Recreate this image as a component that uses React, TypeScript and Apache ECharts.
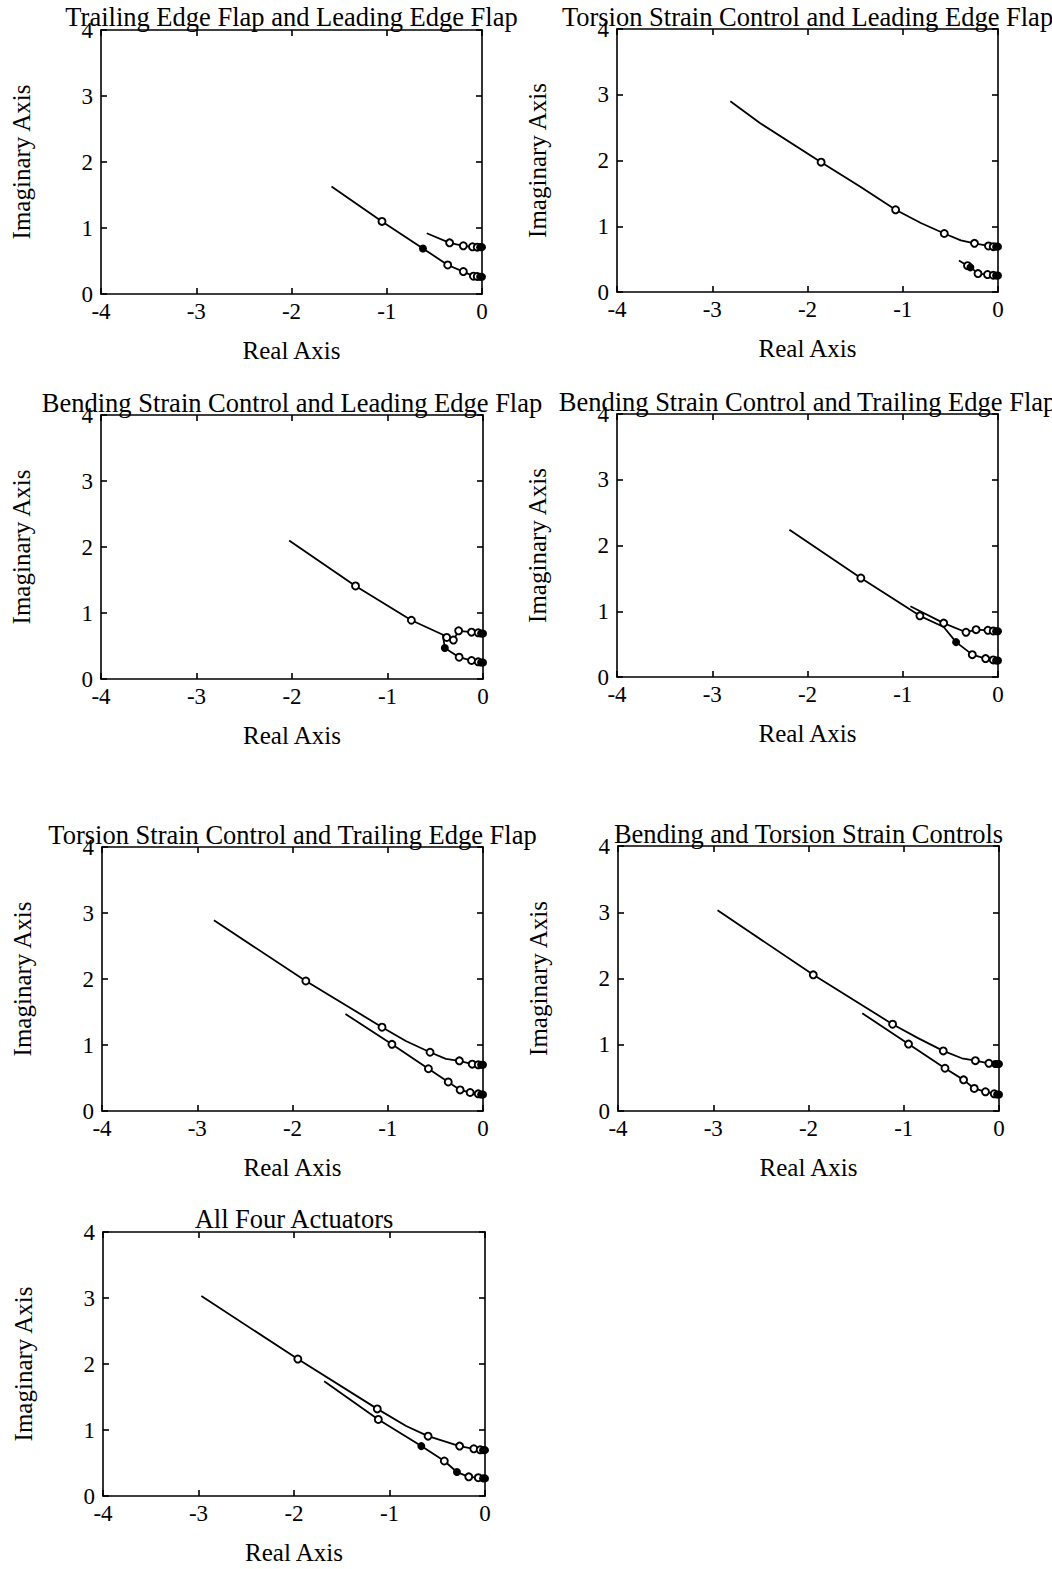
import React, { useEffect, useRef } from "react";
import * as echarts from "echarts";

// ---- axis ranges / ticks ----
const realRange = [-4, 0];
const imagRange = [0, 4];

// ---- titles ----
const titles = [
  "Trailing Edge Flap and Leading Edge Flap",
  "Torsion Strain Control and Leading Edge Flap",
  "Bending Strain Control and Leading Edge Flap",
  "Bending Strain Control and Trailing Edge Flap",
  "Torsion Strain Control and Trailing Edge Flap",
  "Bending and Torsion Strain Controls",
  "All Four Actuators",
];

// ---- Panel 1: Trailing Edge Flap and Leading Edge Flap ----
const p1Long = [[-1.58, 1.63], [-1.05, 1.1], [-0.62, 0.69], [-0.36, 0.44], [-0.196, 0.34], [-0.09, 0.27], [0, 0.26]];
const p1Short = [[-0.58, 0.92], [-0.34, 0.775], [-0.196, 0.73], [-0.1, 0.715], [0, 0.71]];
const p1Open = [[-1.05, 1.1], [-0.36, 0.44], [-0.196, 0.34], [-0.09, 0.27], [-0.34, 0.775], [-0.196, 0.73], [-0.1, 0.715], [-0.05, 0.71], [-0.05, 0.265]];
const p1Filled = [[-0.62, 0.69], [-0.02, 0.71], [0, 0.71], [-0.02, 0.26], [0, 0.26]];

// ---- Panel 2: Torsion Strain Control and Leading Edge Flap ----
const p2Upper = [[-2.81, 2.9], [-2.5, 2.57], [-1.857, 1.975], [-1.445, 1.6], [-1.075, 1.25], [-0.81, 1.05], [-0.564, 0.89], [-0.39, 0.785], [-0.247, 0.74], [-0.1, 0.7], [0, 0.69]];
const p2Lower = [[-0.41, 0.48], [-0.32, 0.4], [-0.27, 0.355], [-0.21, 0.28], [-0.11, 0.265], [0, 0.25]];
const p2Open = [[-1.857, 1.975], [-1.075, 1.25], [-0.564, 0.89], [-0.247, 0.74], [-0.1, 0.7], [-0.32, 0.4], [-0.21, 0.28], [-0.11, 0.265], [-0.05, 0.69], [-0.05, 0.255]];
const p2Filled = [[-0.29, 0.375], [-0.02, 0.69], [0, 0.69], [-0.02, 0.25], [0, 0.25]];

// ---- Panel 3: Bending Strain Control and Leading Edge Flap ----
const p3Long = [[-2.03, 2.1], [-1.335, 1.41], [-0.75, 0.89], [-0.42, 0.67], [-0.4, 0.47], [-0.25, 0.33], [-0.12, 0.28], [0, 0.25]];
const p3Upper = [[-0.42, 0.67], [-0.38, 0.63], [-0.31, 0.59], [-0.255, 0.73], [-0.12, 0.71], [0, 0.69]];
const p3Open = [[-1.335, 1.41], [-0.75, 0.89], [-0.38, 0.63], [-0.31, 0.59], [-0.255, 0.73], [-0.12, 0.71], [-0.25, 0.33], [-0.12, 0.28], [-0.05, 0.7], [-0.05, 0.26]];
const p3Filled = [[-0.4, 0.47], [-0.02, 0.69], [0, 0.69], [-0.02, 0.25], [0, 0.25]];

// ---- Panel 4: Bending Strain Control and Trailing Edge Flap ----
const p4Long = [[-2.19, 2.24], [-1.44, 1.505], [-0.82, 0.93], [-0.57, 0.76], [-0.44, 0.53], [-0.27, 0.34], [-0.13, 0.28], [0, 0.25]];
const p4Short = [[-0.92, 1.075], [-0.57, 0.82], [-0.336, 0.68], [-0.23, 0.72], [-0.106, 0.71], [0, 0.695]];
const p4Open = [[-1.44, 1.505], [-0.82, 0.93], [-0.57, 0.82], [-0.336, 0.68], [-0.23, 0.72], [-0.106, 0.71], [-0.27, 0.34], [-0.13, 0.28], [-0.05, 0.7], [-0.05, 0.26]];
const p4Filled = [[-0.44, 0.53], [-0.02, 0.695], [0, 0.695], [-0.02, 0.25], [0, 0.25]];

// ---- Panel 5: Torsion Strain Control and Trailing Edge Flap ----
const p5Upper = [[-2.825, 2.89], [-1.86, 1.97], [-1.06, 1.27], [-0.81, 1.06], [-0.556, 0.89], [-0.39, 0.79], [-0.248, 0.76], [-0.113, 0.71], [0, 0.7]];
const p5Lower = [[-1.444, 1.47], [-0.956, 1.01], [-0.573, 0.64], [-0.365, 0.44], [-0.24, 0.32], [-0.135, 0.28], [0, 0.25]];
const p5Open = [[-1.86, 1.97], [-1.06, 1.27], [-0.556, 0.89], [-0.248, 0.76], [-0.113, 0.71], [-0.956, 1.01], [-0.573, 0.64], [-0.365, 0.44], [-0.24, 0.32], [-0.135, 0.28], [-0.05, 0.7], [-0.05, 0.26]];
const p5Filled = [[-0.02, 0.7], [0, 0.7], [-0.02, 0.25], [0, 0.25]];

// ---- Panel 6: Bending and Torsion Strain Controls ----
const p6Upper = [[-2.955, 3.03], [-1.95, 2.055], [-1.117, 1.31], [-0.85, 1.1], [-0.585, 0.907], [-0.39, 0.796], [-0.248, 0.76], [-0.106, 0.72], [0, 0.71]];
const p6Lower = [[-1.436, 1.476], [-0.95, 1.01], [-0.567, 0.645], [-0.372, 0.47], [-0.26, 0.34], [-0.142, 0.29], [-0.05, 0.26], [0, 0.25]];
const p6Open = [[-1.95, 2.055], [-1.117, 1.31], [-0.585, 0.907], [-0.248, 0.76], [-0.106, 0.72], [-0.95, 1.01], [-0.567, 0.645], [-0.372, 0.47], [-0.26, 0.34], [-0.142, 0.29], [-0.05, 0.26]];
const p6Filled = [[-0.04, 0.71], [-0.02, 0.71], [0, 0.71], [-0.02, 0.25], [0, 0.25]];

// ---- Panel 7: All Four Actuators ----
const p7Upper = [[-2.97, 3.03], [-1.96, 2.075], [-1.128, 1.32], [-0.826, 1.06], [-0.596, 0.907], [-0.266, 0.756], [-0.117, 0.715], [0, 0.695]];
const p7Lower = [[-1.684, 1.74], [-1.117, 1.16], [-0.667, 0.756], [-0.426, 0.53], [-0.294, 0.363], [-0.17, 0.29], [-0.07, 0.277], [0, 0.267]];
const p7Open = [[-1.96, 2.075], [-1.128, 1.32], [-0.596, 0.907], [-0.266, 0.756], [-0.117, 0.715], [-1.117, 1.16], [-0.426, 0.53], [-0.17, 0.29], [-0.07, 0.277], [-0.05, 0.7]];
const p7Filled = [[-0.667, 0.756], [-0.294, 0.363], [-0.02, 0.695], [0, 0.695], [-0.02, 0.267], [0, 0.267]];

const panels = [
  { lines: [p1Long, p1Short], open: p1Open, filled: p1Filled },
  { lines: [p2Upper, p2Lower], open: p2Open, filled: p2Filled },
  { lines: [p3Long, p3Upper], open: p3Open, filled: p3Filled },
  { lines: [p4Long, p4Short], open: p4Open, filled: p4Filled },
  { lines: [p5Upper, p5Lower], open: p5Open, filled: p5Filled },
  { lines: [p6Upper, p6Lower], open: p6Open, filled: p6Filled },
  { lines: [p7Upper, p7Lower], open: p7Open, filled: p7Filled },
];

// ---- layout (pixels) ----
const layout = [
  { left: 101, top: 30, width: 381, height: 264, titleY: 17 },
  { left: 617, top: 29, width: 381, height: 263, titleY: 17 },
  { left: 101, top: 415, width: 382, height: 264, titleY: 403 },
  { left: 617, top: 414, width: 381, height: 263, titleY: 402 },
  { left: 102, top: 847, width: 381, height: 264, titleY: 835 },
  { left: 618, top: 846, width: 381, height: 265, titleY: 834 },
  { left: 103, top: 1232, width: 382, height: 264, titleY: 1219 },
];

const FONT = '"Liberation Serif", "Times New Roman", serif';
const INK = "#000";

export default function App() {
  const ref = useRef<HTMLDivElement>(null);

  useEffect(() => {
    if (!ref.current) return;
    const chart = echarts.init(ref.current, undefined, { renderer: "svg" });

    const lineStyle = { color: INK, width: 1.6 };
    const grid: any[] = [];
    const xAxis: any[] = [];
    const yAxis: any[] = [];
    const series: any[] = [];
    const graphic: any[] = [];

    layout.forEach((g, i) => {
      grid.push({ left: g.left, top: g.top, width: g.width, height: g.height, show: false });
      const xBase = {
        gridIndex: i,
        type: "value",
        min: realRange[0],
        max: realRange[1],
        interval: 1,
        splitLine: { show: false },
        axisLine: { show: true, onZero: false, lineStyle },
        axisTick: { show: true, inside: true, length: 6, lineStyle },
      };
      xAxis.push({
        ...xBase,
        position: "bottom",
        axisLabel: { color: INK, fontSize: 23, fontFamily: FONT, margin: 6 },
        name: "Real Axis",
        nameLocation: "middle",
        nameGap: 44,
        nameTextStyle: { color: INK, fontSize: 25, fontFamily: FONT },
      });
      xAxis.push({ ...xBase, position: "top", axisLabel: { show: false } });
      const yBase = {
        gridIndex: i,
        type: "value",
        min: imagRange[0],
        max: imagRange[1],
        interval: 1,
        splitLine: { show: false },
        axisLine: { show: true, onZero: false, lineStyle },
        axisTick: { show: true, inside: true, length: 6, lineStyle },
      };
      yAxis.push({
        ...yBase,
        position: "left",
        axisLabel: { color: INK, fontSize: 23, fontFamily: FONT, margin: 8 },
        name: "Imaginary Axis",
        nameLocation: "middle",
        nameGap: 67,
        nameTextStyle: { color: INK, fontSize: 25, fontFamily: FONT },
      });
      yAxis.push({ ...yBase, position: "right", axisLabel: { show: false } });

      const p = panels[i];
      p.lines.forEach((ln) => {
        series.push({
          type: "line",
          xAxisIndex: 2 * i,
          yAxisIndex: 2 * i,
          data: ln,
          symbol: "none",
          showSymbol: false,
          lineStyle: { color: INK, width: 1.8 },
          z: 2,
        });
      });
      series.push({
        type: "scatter",
        xAxisIndex: 2 * i,
        yAxisIndex: 2 * i,
        data: p.open,
        symbol: "circle",
        symbolSize: 7,
        itemStyle: { color: "#fff", borderColor: INK, borderWidth: 1.9, opacity: 1 },
        z: 3,
      });
      series.push({
        type: "scatter",
        xAxisIndex: 2 * i,
        yAxisIndex: 2 * i,
        data: p.filled,
        symbol: "circle",
        symbolSize: 8,
        itemStyle: { color: INK, opacity: 1 },
        z: 4,
      });

      graphic.push({
        type: "text",
        x: g.left + g.width / 2,
        y: g.titleY,
        z: 10,
        style: {
          text: titles[i],
          font: `26.5px ${FONT}`,
          fill: INK,
          align: "center",
          verticalAlign: "middle",
          textAlign: "center",
          textVerticalAlign: "middle",
        },
      });
    });

    chart.setOption({
      animation: false,
      backgroundColor: "#fff",
      grid,
      xAxis,
      yAxis,
      series,
      graphic,
    });

    return () => chart.dispose();
  }, []);

  return (
    <div
      ref={ref}
      style={{ position: "absolute", left: 0, top: 0, width: 1052, height: 1569, background: "#fff" }}
    />
  );
}
